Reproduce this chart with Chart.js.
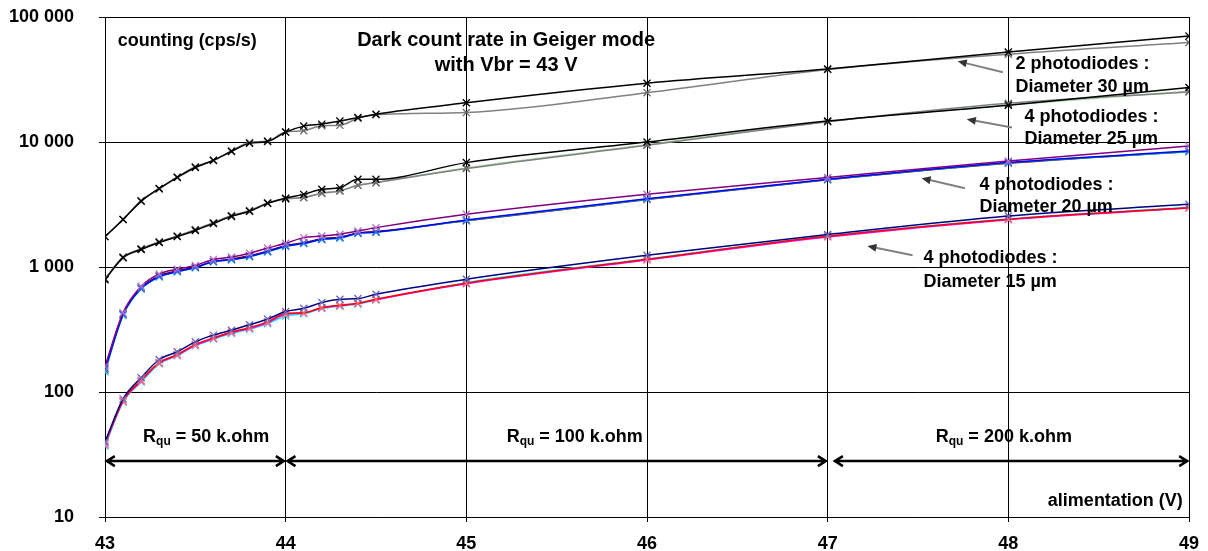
<!DOCTYPE html>
<html>
<head>
<meta charset="utf-8">
<script src="https://cdn.jsdelivr.net/npm/chart.js@4.4.1/dist/chart.umd.min.js"></script>
<style>
    html, body { margin: 0; padding: 0; background: #fff; }
    canvas { display: block; }
</style>
</head>
<body>
<canvas id="darkChart" width="1208" height="551"></canvas>
<script>
// Supply voltage (V)
const voltages = [43, 43.1, 43.2, 43.3, 43.4, 43.5, 43.6, 43.7, 43.8, 43.9, 44,
                  44.1, 44.2, 44.3, 44.4, 44.5, 45, 46, 47, 48, 49];

// Dark count rate (cps/s) - 2 photodiodes, diameter 30 um
const d30a = [1750, 2400, 3350, 4250, 5200, 6250, 7150, 8400, 9750, 10100, 12000,
              13400, 13900, 14700, 15700, 16700, 20600, 29500, 38300, 52400, 70400];
const d30b = [1750, 2400, 3400, 4200, 5250, 6350, 7100, 8500, 9900, 10200, 12000,
              12300, 13500, 13600, 15500, 16500, 17200, 24800, 38000, 50400, 62500];

// 4 photodiodes, diameter 25 um
const d25a = [790, 1190, 1380, 1570, 1750, 1960, 2230, 2540, 2790, 3230, 3550,
              3810, 4190, 4310, 5030, 5030, 6840, 10000, 14700, 19700, 27300];
const d25b = [810, 1200, 1400, 1590, 1770, 2000, 2260, 2580, 2830, 3260, 3520,
              3590, 3890, 4060, 4500, 4730, 6130, 9400, 14500, 20400, 25100];
const d25c = [800, 1180, 1390, 1580, 1760, 1980, 2250, 2560, 2800, 3240, 3500,
              3600, 3900, 4080, 4520, 4750, 6200, 9500, 14600, 19800, 25500];

// 4 photodiodes, diameter 20 um
const d20a = [160, 430, 700, 880, 960, 1030, 1150, 1200, 1290, 1420, 1548,
              1718, 1770, 1827, 1941, 2065, 2640, 3820, 5200, 7050, 9290];
const d20b = [150, 416, 673, 840, 920, 990, 1107, 1148, 1213, 1331, 1472,
              1548, 1667, 1718, 1862, 1905, 2380, 3520, 5030, 6850, 8470];
const d20c = [145, 410, 665, 830, 915, 985, 1100, 1140, 1205, 1320, 1460,
              1540, 1650, 1700, 1850, 1890, 2360, 3480, 5000, 6800, 8350];
const d20d = [155, 420, 680, 850, 930, 1000, 1100, 1160, 1230, 1340, 1480,
              1560, 1680, 1730, 1870, 1920, 2340, 3460, 4980, 6750, 8400];

// 4 photodiodes, diameter 15 um
const d15a = [40, 88, 130, 182, 210, 252, 285, 312, 345, 384, 440,
              467, 519, 552, 559, 605, 798, 1240, 1820, 2560, 3175];
const d15b = [39, 85, 124, 172, 199, 240, 270, 302, 327, 364, 425,
              430, 473, 494, 513, 552, 742, 1153, 1760, 2410, 2985];
const d15c = [38, 84, 122, 170, 197, 236, 268, 298, 322, 358, 418,
              428, 470, 490, 510, 548, 735, 1140, 1740, 2390, 2960];
const d15d = [37, 83, 120, 168, 195, 234, 265, 294, 318, 352, 405,
              422, 465, 486, 505, 545, 750, 1160, 1770, 2420, 3000];

// Axis ticks
const xTicks = [43, 44, 45, 46, 47, 48, 49];
const yTicks = [10, 100, 1000, 10000, 100000];

// Quench resistor ranges (V) and labels
const rquRanges = [[43.01, 43.99], [44.01, 46.99], [47.04, 48.99]];
const rquValues = ['50', '100', '200'];
const rquCenters = [43.56, 45.6, 47.975];

const FONT = '"Liberation Sans", Arial, sans-serif';

function pairs(ys) {
    return voltages.map((v, i) => ({ x: v, y: ys[i] }));
}

function series(ys, line, marker) {
    return {
        data: pairs(ys),
        borderColor: line,
        borderWidth: 1.5,
        pointStyle: 'crossRot',
        pointRadius: 5,
        pointBorderWidth: 1.3,
        pointBorderColor: marker || line,
        pointBackgroundColor: marker || line,
        cubicInterpolationMode: 'monotone',
        fill: false
    };
}

function fmtThousands(v) {
    return String(v).replace(/\B(?=(\d{3})+(?!\d))/g, ' ');
}

// Text notes, positioned in data units (V, cps/s)
const notes = [
    { text: 'counting (cps/s)', v: 43.07, c: 64600, align: 'left', size: 18 },
    { text: 'Dark count rate in Geiger mode', v: 45.22, c: 64600, align: 'center', size: 20 },
    { text: 'with Vbr = 43 V', v: 45.22, c: 40800, align: 'center', size: 20 },
    { text: '2 photodiodes :', v: 48.04, c: 41800, align: 'left', size: 18 },
    { text: 'Diameter 30 µm', v: 48.04, c: 27400, align: 'left', size: 18 },
    { text: '4 photodiodes :', v: 48.09, c: 15800, align: 'left', size: 18 },
    { text: 'Diameter 25 µm', v: 48.09, c: 10500, align: 'left', size: 18 },
    { text: '4 photodiodes :', v: 47.84, c: 4500, align: 'left', size: 18 },
    { text: 'Diameter 20 µm', v: 47.84, c: 3000, align: 'left', size: 18 },
    { text: '4 photodiodes :', v: 47.53, c: 1175, align: 'left', size: 18 },
    { text: 'Diameter 15 µm', v: 47.53, c: 754, align: 'left', size: 18 },
    { text: 'alimentation (V)', v: 48.966, c: 13.4, align: 'right', size: 18 }
];

// Pointer arrows from labels to curves
const pointers = [
    { from: [47.97, 36100], to: [47.72, 44300] },
    { from: [48.02, 13070], to: [47.77, 15200] },
    { from: [47.76, 4270], to: [47.52, 5130] },
    { from: [47.47, 1240], to: [47.22, 1470] }
];

const annotationPlugin = {
    id: 'notes',
    afterDatasetsDraw(chart) {
        const ctx = chart.ctx;
        const xs = chart.scales.x;
        const ys = chart.scales.y;
        ctx.save();
        ctx.fillStyle = '#000';
        ctx.textBaseline = 'middle';

        notes.forEach(n => {
            ctx.font = 'bold ' + n.size + 'px ' + FONT;
            ctx.textAlign = n.align;
            ctx.fillText(n.text, xs.getPixelForValue(n.v), ys.getPixelForValue(n.c));
        });

        // gray pointers with small heads
        pointers.forEach(p => {
            const x1 = xs.getPixelForValue(p.from[0]), y1 = ys.getPixelForValue(p.from[1]);
            const x2 = xs.getPixelForValue(p.to[0]), y2 = ys.getPixelForValue(p.to[1]);
            const ang = Math.atan2(y2 - y1, x2 - x1);
            ctx.strokeStyle = '#808080';
            ctx.lineWidth = 2;
            ctx.beginPath();
            ctx.moveTo(x1, y1);
            ctx.lineTo(x2 - 6 * Math.cos(ang), y2 - 6 * Math.sin(ang));
            ctx.stroke();
            ctx.fillStyle = '#333';
            ctx.beginPath();
            ctx.moveTo(x2, y2);
            ctx.lineTo(x2 - 9 * Math.cos(ang) + 4 * Math.sin(ang), y2 - 9 * Math.sin(ang) - 4 * Math.cos(ang));
            ctx.lineTo(x2 - 9 * Math.cos(ang) - 4 * Math.sin(ang), y2 - 9 * Math.sin(ang) + 4 * Math.cos(ang));
            ctx.closePath();
            ctx.fill();
        });

        // Rqu double arrows
        const ay = ys.getPixelForValue(28);
        ctx.strokeStyle = '#000';
        ctx.lineWidth = 2.5;
        rquRanges.forEach(r => {
            const a = xs.getPixelForValue(r[0]);
            const b = xs.getPixelForValue(r[1]);
            ctx.beginPath();
            ctx.moveTo(a, ay);
            ctx.lineTo(b, ay);
            ctx.moveTo(a + 8, ay - 5);
            ctx.lineTo(a, ay);
            ctx.lineTo(a + 8, ay + 5);
            ctx.moveTo(b - 8, ay - 5);
            ctx.lineTo(b, ay);
            ctx.lineTo(b - 8, ay + 5);
            ctx.stroke();
        });

        // Rqu labels with subscript
        const ty = ys.getPixelForValue(39.8);
        ctx.textAlign = 'left';
        ctx.textBaseline = 'alphabetic';
        ctx.fillStyle = '#000';
        rquValues.forEach((val, i) => {
            const main = 'bold 18px ' + FONT;
            const sub = 'bold 12px ' + FONT;
            const tail = ' = ' + val + ' k.ohm';
            ctx.font = main;
            const wR = ctx.measureText('R').width;
            const wT = ctx.measureText(tail).width;
            ctx.font = sub;
            const wS = ctx.measureText('qu').width;
            let x = xs.getPixelForValue(rquCenters[i]) - (wR + wS + wT) / 2;
            ctx.font = main;
            ctx.fillText('R', x, ty);
            x += wR;
            ctx.font = sub;
            ctx.fillText('qu', x, ty + 3);
            x += wS;
            ctx.font = main;
            ctx.fillText(tail, x, ty);
        });
        ctx.restore();
    }
};

const whiteBg = {
    id: 'whiteBg',
    beforeDraw(chart) {
        const ctx = chart.ctx;
        ctx.save();
        ctx.fillStyle = '#fff';
        ctx.fillRect(0, 0, chart.width, chart.height);
        ctx.restore();
    }
};

new Chart(document.getElementById('darkChart'), {
    type: 'line',
    data: {
        datasets: [
            series(d30a, '#000000'),
            series(d30b, '#808080', '#6a6a6a'),
            series(d25a, '#000000'),
            series(d25b, '#808080', '#6a6a6a'),
            series(d25c, '#a8d8a8', '#808080'),
            series(d20a, '#800080', '#b070c0'),
            series(d20b, '#0000ff', '#3366ff'),
            series(d20c, '#00b0b0', '#33cccc'),
            series(d20d, '#800000', '#a04040'),
            series(d15a, '#000080', '#6666bb'),
            series(d15b, '#ff0000', '#ff6666'),
            series(d15c, '#ff00ff', '#ff66ff'),
            series(d15d, '#00ffff', '#33cccc')
        ]
    },
    options: {
        responsive: false,
        animation: false,
        devicePixelRatio: 1,
        layout: { padding: { top: 17, right: 19, left: 0, bottom: 0 } },
        plugins: {
            legend: { display: false },
            tooltip: { enabled: false }
        },
        scales: {
            x: {
                type: 'linear',
                min: 43,
                max: 49,
                afterBuildTicks: scale => { scale.ticks = xTicks.map(v => ({ value: v })); },
                afterFit: scale => {
                    scale.height = 34;
                    scale.paddingLeft = 0;
                    scale.paddingRight = 0;
                },
                ticks: {
                    color: '#000',
                    padding: 11,
                    maxRotation: 0,
                    font: { family: FONT, size: 18, weight: 'bold' }
                },
                grid: { color: '#000', lineWidth: 1, tickLength: 5 },
                border: { color: '#000' }
            },
            y: {
                type: 'logarithmic',
                min: 10,
                max: 100000,
                afterBuildTicks: scale => { scale.ticks = yTicks.map(v => ({ value: v })); },
                afterFit: scale => {
                    scale.width = 105;
                    scale.paddingTop = 0;
                    scale.paddingBottom = 0;
                },
                ticks: {
                    color: '#000',
                    padding: 25,
                    font: { family: FONT, size: 18, weight: 'bold' },
                    callback: v => fmtThousands(v)
                },
                grid: { color: '#000', lineWidth: 1, tickLength: 6 },
                border: { color: '#000' }
            }
        }
    },
    plugins: [whiteBg, annotationPlugin]
});
</script>
</body>
</html>
